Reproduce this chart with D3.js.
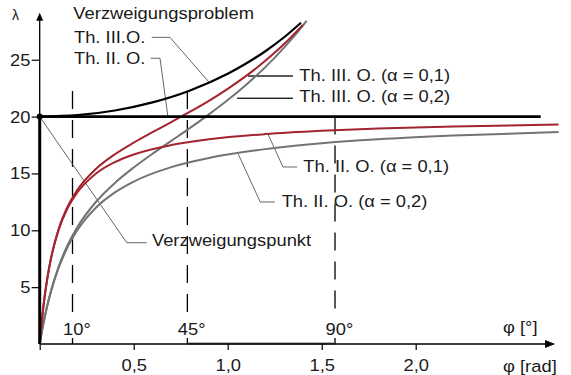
<!DOCTYPE html>
<html>
<head>
<meta charset="utf-8">
<script src="https://cdn.jsdelivr.net/npm/d3@7"></script>
<style>
    body { margin: 0; background: #fff; }
    text { font-family: "Liberation Sans", Arial, Helvetica, sans-serif; fill: #1a1a1a; }
</style>
</head>
<body>
<div id="chart"></div>
<script>
// phi [rad] against lambda

// Verzweigungsproblem (black)
const phiBranch = [0, 0.2, 0.4, 0.6, 0.8, 1.0, 1.1, 1.2, 1.3, 1.39];
const lamBranch = [20, 20.13, 20.54, 21.25, 22.3, 23.77, 24.69, 25.75, 26.98, 28.26];

// Th. II. O.
const phiSecond = [0, 0.01, 0.02, 0.03, 0.05, 0.075, 0.1, 0.15, 0.2, 0.3, 0.4, 0.5, 0.7, 0.9, 1.2, 1.5, 1.8, 2.2, 2.76];
const lamSecondA1 = [0, 1.82, 3.33, 4.62, 6.67, 8.57, 10, 12, 13.33, 15, 16, 16.67, 17.5, 18, 18.46, 18.75, 18.95, 19.13, 19.3];
const lamSecondA2 = [0, 0.95, 1.82, 2.61, 4, 5.45, 6.67, 8.57, 10, 12, 13.33, 14.29, 15.56, 16.36, 17.14, 17.65, 18, 18.33, 18.65];

// Th. III. O.
const phiThirdA1 = [0, 0.01, 0.02, 0.05, 0.1, 0.15, 0.2, 0.3, 0.4, 0.5, 0.6, 0.7, 0.8, 0.9, 1.0, 1.1, 1.2, 1.3, 1.4];
const lamThirdA1 = [0, 1.82, 3.34, 6.69, 10.07, 12.13, 13.54, 15.41, 16.69, 17.71, 18.63, 19.52, 20.43, 21.39, 22.44, 23.6, 24.91, 26.38, 28.07];
const phiThirdA2 = [0, 0.01, 0.02, 0.05, 0.1, 0.15, 0.2, 0.3, 0.4, 0.5, 0.6, 0.7, 0.8, 0.9, 1.0, 1.1, 1.2, 1.3, 1.4, 1.42];
const lamThirdA2 = [0, 0.96, 1.83, 4.04, 6.77, 8.75, 10.27, 12.51, 14.17, 15.52, 16.73, 17.87, 19.01, 20.2, 21.46, 22.83, 24.35, 26.07, 28.01, 28.43];

const critLoad = 20;
const critEnd = 2.665;

const yTicks = [5, 10, 15, 20, 25];
const xTicks = [0, 0.5, 1.0, 1.5, 2.0];
const degLines = [10, 45, 90];

const labels = [
    "Verzweigungsproblem", "Th. III.O.", "Th. II. O.",
    "Th. III. O. (α = 0,1)", "Th. III. O. (α = 0,2)",
    "Th. II. O. (α = 0,1)", "Th. II. O. (α = 0,2)", "Verzweigungspunkt"
];

// layout (phi, lambda) of label baselines, leader lines, dashed line tops
const labelPos = [[0.179, 28.56], [0.182, 26.5], [0.182, 24.66], [1.381, 23.1], [1.381, 21.25], [1.402, 15.12], [1.287, 12.08], [0.597, 8.65]];
const leaders = [
    null,
    [[0.596, 26.97], [0.693, 26.97], [0.90, 23.04]],
    [[0.590, 25.13], [0.640, 25.13], [0.682, 20.0]],
    [[1.108, 23.57], [1.347, 23.57]],
    [[1.05, 21.61], [1.347, 21.61]],
    [[1.214, 18.47], [1.294, 15.57], [1.369, 15.57]],
    [[1.056, 16.71], [1.173, 12.49], [1.251, 12.49]],
    [[0, 20], [0.463, 8.91], [0.569, 8.91]]
];
const degTop = [22.25, 22.25, 20];

const width = 571, height = 375;
const red = "#a3232f", gray = "#737373";
const sx = 1.08;

const svg = d3.select("#chart").append("svg")
    .attr("width", width)
    .attr("height", height);

const x = d3.scaleLinear().domain([0, 2]).range([39.7, 415.7]);
const y = d3.scaleLinear().domain([0, 20]).range([344, 116.6]);

const line = d3.line()
    .x(d => x(d[0]))
    .y(d => y(d[1]))
    .curve(d3.curveMonotoneX);
const straight = d3.line().x(d => x(d[0])).y(d => y(d[1]));

const de = d3.formatLocale({ decimal: ",", thousands: ".", grouping: [3], currency: ["", "€"] });
const fmt = de.format(".1f");

// dashed degree lines
degLines.forEach((deg, i) => {
    let phi = deg / 180 * Math.PI;
    svg.append("path")
        .attr("d", straight([[phi, degTop[i]], [phi, 2.46]]))
        .attr("stroke", "#000").attr("stroke-width", 1.3)
        .attr("stroke-dasharray", "18,11").attr("fill", "none");
    svg.append("path")
        .attr("d", straight([[phi, 0.53], [phi, 0]]))
        .attr("stroke", "#000").attr("stroke-width", 1.3);
    svg.append("text")
        .attr("transform", "translate(" + (x(phi) - 9.5) + "," + 335 + ") scale(" + sx + ",1)")
        .attr("font-size", 17)
        .text(deg + "°");
});

// gray segment on the axis between 45° and 90°
svg.append("path")
    .attr("d", straight([[Math.PI / 4, 0.05], [Math.PI / 2, 0.05]]))
    .attr("stroke", gray).attr("stroke-width", 2);

// axes
const yAxis = svg.append("g")
    .attr("transform", "translate(" + x(0) + ",0)")
    .call(d3.axisLeft(y).tickValues(yTicks).tickSize(8).tickPadding(0.5).tickSizeOuter(0));
yAxis.select(".domain").remove();
yAxis.selectAll("line").attr("stroke", "#000").attr("stroke-width", 1.2);
yAxis.selectAll("text")
    .attr("font-size", 17).attr("font-family", null).attr("fill", "#1a1a1a")
    .attr("transform", "scale(" + sx + ",1)");

const xAxis = svg.append("g")
    .attr("transform", "translate(0," + y(0) + ")")
    .call(d3.axisBottom(x).tickValues(xTicks).tickSize(6).tickPadding(9).tickSizeOuter(0)
        .tickFormat(d => d === 0 ? "" : fmt(d)));
xAxis.select(".domain").remove();
xAxis.selectAll("line").attr("stroke", "#000").attr("stroke-width", 1.2);
xAxis.selectAll("text")
    .attr("font-size", 17).attr("font-family", null).attr("fill", "#1a1a1a")
    .attr("transform", "scale(" + sx + ",1)");

// axis lines with arrows
svg.append("line")
    .attr("x1", x(0)).attr("x2", x(2.70))
    .attr("y1", y(0)).attr("y2", y(0))
    .attr("stroke", "#000").attr("stroke-width", 1.3);
svg.append("path")
    .attr("d", "M" + x(2.742) + "," + y(0) + "L" + x(2.688) + "," + (y(0) - 4) + "L" + x(2.688) + "," + (y(0) + 4) + "Z")
    .attr("fill", "#000");
svg.append("line")
    .attr("x1", x(0)).attr("x2", x(0))
    .attr("y1", y(critLoad)).attr("y2", y(28.6))
    .attr("stroke", "#000").attr("stroke-width", 1.3);
svg.append("path")
    .attr("d", "M" + x(0) + "," + y(29.14) + "L" + (x(0) - 3.5) + "," + y(28.43) + "L" + (x(0) + 3.5) + "," + y(28.43) + "Z")
    .attr("fill", "#000");

svg.append("text")
    .attr("x", 12).attr("y", 19.5)
    .attr("font-size", 14)
    .text("λ");
svg.append("text")
    .attr("transform", "translate(503," + 333 + ") scale(" + sx + ",1)")
    .attr("font-size", 17)
    .text("φ [°]");
svg.append("text")
    .attr("transform", "translate(503," + 371.5 + ") scale(" + sx + ",1)")
    .attr("font-size", 17)
    .text("φ [rad]");

// leaders
leaders.forEach(l => {
    if (!l) return;
    svg.append("path")
        .attr("d", straight(l))
        .attr("fill", "none")
        .attr("stroke", "#555")
        .attr("stroke-width", 0.9);
});
// short black stubs before the right-hand labels
[3, 4].forEach(i => {
    svg.append("path")
        .attr("d", straight(leaders[i]))
        .attr("stroke", "#000").attr("stroke-width", 1.1);
});

const zip = (a, b) => a.map((v, i) => [v, b[i]]);

// curves
const curves = [
    { pts: zip(phiSecond, lamSecondA2), color: gray, w: 2 },
    { pts: zip(phiThirdA2, lamThirdA2), color: gray, w: 2 },
    { pts: zip(phiSecond, lamSecondA1), color: red, w: 2 },
    { pts: zip(phiThirdA1, lamThirdA1), color: red, w: 2 },
    { pts: zip(phiBranch, lamBranch), color: "#000", w: 2.2 }
];
svg.append("g").selectAll("path")
    .data(curves)
    .enter().append("path")
    .attr("d", d => line(d.pts))
    .attr("fill", "none")
    .attr("stroke", d => d.color)
    .attr("stroke-width", d => d.w);

// fundamental path and critical load
svg.append("path")
    .attr("d", straight([[0, 0], [0, critLoad]]))
    .attr("stroke", "#000").attr("stroke-width", 3);
svg.append("path")
    .attr("d", straight([[0, critLoad], [critEnd, critLoad]]))
    .attr("stroke", "#000").attr("stroke-width", 2.7);
svg.append("circle")
    .attr("cx", x(0)).attr("cy", y(critLoad)).attr("r", 3)
    .attr("fill", "#000");

// labels
labels.forEach((t, i) => {
    svg.append("text")
        .attr("transform", "translate(" + x(labelPos[i][0]) + "," + y(labelPos[i][1]) + ") scale(" + sx + ",1)")
        .attr("font-size", 17)
        .text(t);
});
</script>
</body>
</html>
